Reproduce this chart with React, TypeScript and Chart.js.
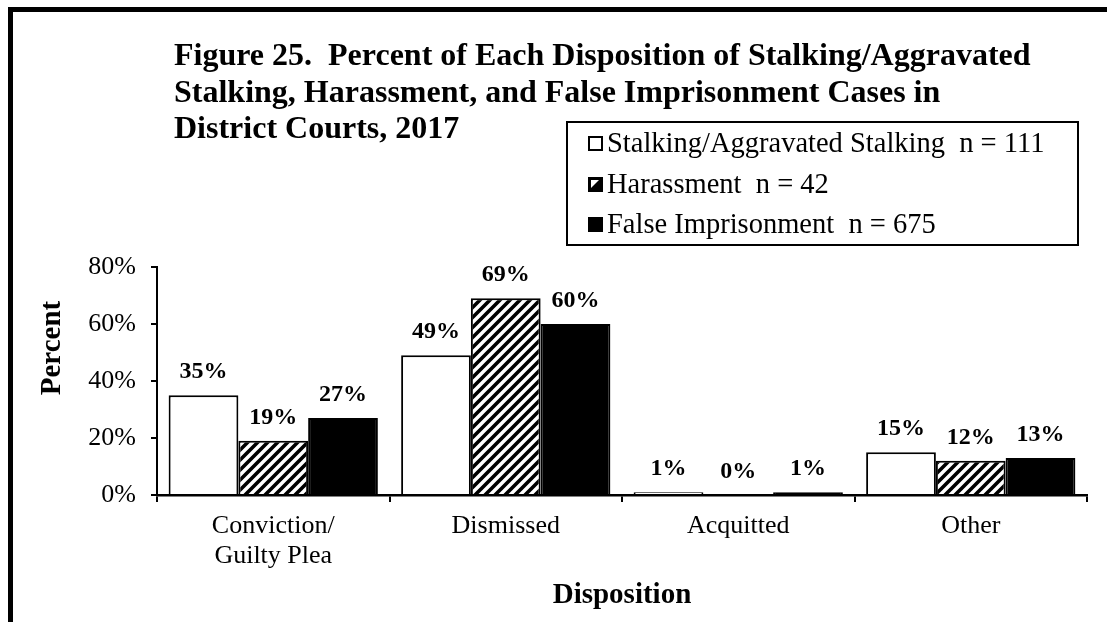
import React, { useEffect, useRef } from "react";
import { Chart, registerables } from "chart.js";

Chart.register(...registerables);

const categories: string[][] = [["Conviction/", "Guilty Plea"], ["Dismissed"], ["Acquitted"], ["Other"]];
const stalkingValues = [35, 49, 1, 15];
const harassmentValues = [19, 69, 0, 12];
const falseImprisonmentValues = [27, 60, 1, 13];
const seriesNames = ["Stalking/Aggravated Stalking  n = 111", "Harassment  n = 42", "False Imprisonment  n = 675"];
const yTicks = [0, 20, 40, 60, 80];
const titleLines = [
  "Figure 25.  Percent of Each Disposition of Stalking/Aggravated",
  "Stalking, Harassment, and False Imprisonment Cases in",
  "District Courts, 2017",
];
const xAxisTitle = "Disposition";
const yAxisTitle = "Percent";

const SERIF = "'Liberation Serif', 'Times New Roman', serif";

function makeHatch(): CanvasPattern | string {
  const c = document.createElement("canvas");
  const s = 10;
  c.width = s;
  c.height = s;
  const g = c.getContext("2d");
  if (!g) return "#888";
  g.fillStyle = "#fff";
  g.fillRect(0, 0, s, s);
  g.strokeStyle = "#000";
  g.lineWidth = 3.6;
  g.beginPath();
  g.moveTo(-2, s + 2);
  g.lineTo(s + 2, -2);
  g.moveTo(-2, 2);
  g.lineTo(2, -2);
  g.moveTo(s - 2, s + 2);
  g.lineTo(s + 2, s - 2);
  g.stroke();
  const p = g.createPattern(c, "repeat");
  return p || "#888";
}

export default function App() {
  const ref = useRef<HTMLCanvasElement | null>(null);

  useEffect(() => {
    document.body.style.margin = "0";
    document.body.style.overflow = "hidden";
    const canvas = ref.current;
    if (!canvas) return;
    const hatch = makeHatch();

    const decor = {
      id: "decor",
      afterDraw(chart: any) {
        const ctx = chart.ctx as CanvasRenderingContext2D;
        ctx.save();
        // outer frame
        ctx.strokeStyle = "#000";
        ctx.lineWidth = 5;
        ctx.strokeRect(10.5, 9.5, 1200, 700);

        // title
        ctx.fillStyle = "#000";
        ctx.font = `bold 32px ${SERIF}`;
        ctx.textAlign = "left";
        ctx.textBaseline = "alphabetic";
        const tb = [65, 102, 138];
        titleLines.forEach((t, i) => ctx.fillText(t, 174, tb[i]));

        // legend
        ctx.lineWidth = 2;
        ctx.strokeRect(567, 122, 511, 123);
        ctx.font = `28.5px ${SERIF}`;
        const lb = [152, 193, 233];
        seriesNames.forEach((name, i) => {
          const sx = 588, sy = lb[i] - 16, sz = 15;
          if (i === 0) {
            ctx.fillStyle = "#fff";
            ctx.fillRect(sx, sy, sz, sz);
            ctx.lineWidth = 2;
            ctx.strokeRect(sx + 1, sy + 1, sz - 2, sz - 2);
          } else if (i === 1) {
            ctx.fillStyle = "#000";
            ctx.fillRect(sx, sy, sz, sz);
            ctx.fillStyle = "#fff";
            ctx.beginPath();
            ctx.moveTo(sx + 3, sy + 3);
            ctx.lineTo(sx + sz - 4, sy + 3);
            ctx.lineTo(sx + 3, sy + sz - 4);
            ctx.closePath();
            ctx.fill();
          } else {
            ctx.fillStyle = "#000";
            ctx.fillRect(sx, sy, sz, sz);
          }
          ctx.fillStyle = "#000";
          ctx.fillText(name, 607, lb[i]);
        });

        // data labels
        ctx.font = `bold 24px ${SERIF}`;
        ctx.textAlign = "center";
        chart.data.datasets.forEach((ds: any, di: number) => {
          const meta = chart.getDatasetMeta(di);
          meta.data.forEach((bar: any, i: number) => {
            const v = ds.data[i];
            ctx.fillText(`${v}%`, bar.x, bar.y - 17);
          });
        });

        // axis titles
        ctx.font = `bold 29px ${SERIF}`;
        ctx.textAlign = "center";
        ctx.textBaseline = "alphabetic";
        const ca = chart.chartArea;
        ctx.fillText(xAxisTitle, (ca.left + ca.right) / 2, 603);
        ctx.save();
        ctx.translate(60, 348);
        ctx.rotate(-Math.PI / 2);
        ctx.fillText(yAxisTitle, 0, 0);
        ctx.restore();
        ctx.restore();
      },
    };

    const chart = new Chart(canvas, {
      type: "bar",
      data: {
        labels: categories as any,
        datasets: [
          {
            label: seriesNames[0],
            data: stalkingValues,
            backgroundColor: "#fff",
            borderColor: "#000",
            borderWidth: 2,
          },
          {
            label: seriesNames[1],
            data: harassmentValues,
            backgroundColor: hatch as any,
            borderColor: "#000",
            borderWidth: 2,
          },
          {
            label: seriesNames[2],
            data: falseImprisonmentValues,
            backgroundColor: "#000",
            borderColor: "#000",
            borderWidth: 2,
          },
        ],
      },
      options: {
        animation: false,
        responsive: false,
        maintainAspectRatio: false,
        events: [],
        layout: { padding: { top: 267, right: 20, left: 0, bottom: 0 } },
        plugins: {
          legend: { display: false },
          title: { display: false },
          tooltip: { enabled: false },
        },
        datasets: { bar: { categoryPercentage: 0.9, barPercentage: 1.0 } },
        scales: {
          x: {
            grid: { display: true, drawOnChartArea: false, drawTicks: true, tickLength: 7, color: "#000", lineWidth: 2, offset: true },
            border: { display: true, color: "#000", width: 2.5 },
            ticks: { color: "#000", font: { family: SERIF, size: 26, lineHeight: 1.12 }, padding: 10, maxRotation: 0, autoSkip: false },
            afterFit: (s: any) => { s.height = 127; },
          },
          y: {
            min: 0,
            max: 80,
            afterBuildTicks: (s: any) => { s.ticks = yTicks.map((v) => ({ value: v })); },
            grid: { display: true, drawOnChartArea: false, drawTicks: true, tickLength: 6, color: "#000", lineWidth: 2 },
            border: { display: true, color: "#000", width: 2 },
            ticks: { color: "#000", font: { family: SERIF, size: 26 }, padding: 15, callback: (v: any) => `${v}%` },
            afterFit: (s: any) => { s.width = 157; },
          },
        },
      },
      plugins: [decor],
    });
    return () => chart.destroy();
  }, []);

  return <canvas ref={ref} width={1107} height={622} style={{ display: "block", width: 1107, height: 622 }} />;
}
